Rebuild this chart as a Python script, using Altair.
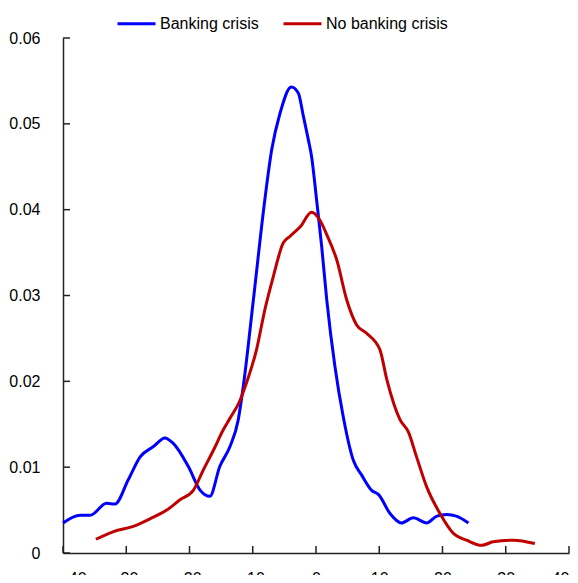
import altair as alt
import pandas as pd

# Density of output change (%)
bank_x = [-40, -37.3, -35.7, -33.1, -31.8, -29.7, -27.8, -25.7, -23.9, -22.6, -20.2, -18.3,
          -16.8, -15.2, -13.6, -12.3, -11.5, -9.9, -8.1, -7.0, -5.7, -3.9, -2.8,
          -2.0, -1.2, -0.7, 0.1, 0.9, 1.7, 3.0, 4.3, 5.9, 7.2, 8.8, 9.9, 11.7, 13.5,
          15.4, 17.5, 19.1, 20.7, 22.2, 24.1]
bank_y = [0.0035, 0.0044, 0.0044, 0.0058, 0.0057, 0.0085, 0.0112, 0.0124, 0.0134, 0.0128,
          0.0101, 0.0073, 0.0066, 0.0101, 0.0124, 0.0155, 0.0194, 0.0295, 0.0411, 0.0470,
          0.0512, 0.0543, 0.0536, 0.0509, 0.0481, 0.0462, 0.0411, 0.0357, 0.0295, 0.0217,
          0.0159, 0.0108, 0.0091, 0.0073, 0.0068, 0.0046, 0.0035,
          0.0041, 0.0035, 0.0043, 0.0045, 0.0043, 0.0035]

nobank_x = [-34.8, -32.0, -28.9, -26.2, -23.6, -21.5, -19.4, -17.8, -16.2, -14.7, -13.6,
            -12.0, -11.0, -9.4, -8.1, -6.75, -5.2, -4.1, -2.5, -0.7, 0.6, 1.7, 3.3, 4.85, 6.4,
            8.0, 10.1, 11.2, 13.3, 14.6, 15.9, 17.5, 19.6, 21.7, 23.8, 26.2, 28.0, 31.2, 34.6]
nobank_y = [0.0016, 0.0025, 0.0031, 0.0040, 0.0050, 0.0062, 0.0073, 0.0097, 0.0120, 0.0143,
            0.0157, 0.0178, 0.0198, 0.0237, 0.0283, 0.0322, 0.0361, 0.0369, 0.0380, 0.0397,
            0.0388, 0.0371, 0.0341, 0.0295, 0.0266, 0.0256, 0.0237, 0.0202, 0.0155, 0.0141,
            0.0112, 0.0077, 0.0046, 0.0023, 0.0015, 0.0009, 0.0013, 0.0015, 0.0011]

series = ['Banking crisis', 'No banking crisis']
colors = ['#0000FF', '#C00000']
x_ticks = [-40, -30, -20, -10, 0, 10, 20, 30, 40]
y_ticks = [0, 0.01, 0.02, 0.03, 0.04, 0.05, 0.06]

FONT = 'Liberation Sans'

df = pd.concat([
    pd.DataFrame({'x': bank_x, 'y': bank_y, 'series': series[0]}),
    pd.DataFrame({'x': nobank_x, 'y': nobank_y, 'series': series[1]}),
])

x_scale = alt.Scale(domain=[-40, 40], nice=False)
y_scale = alt.Scale(domain=[0, 0.06], nice=False)

lines = alt.Chart(df).mark_line(strokeWidth=3, interpolate='monotone').encode(
    x=alt.X('x:Q', scale=x_scale,
            axis=alt.Axis(values=x_ticks, title=None, grid=False, tickSize=0,
                          labelPadding=17, labelExpr="datum.value + ''")),
    y=alt.Y('y:Q', scale=y_scale,
            axis=alt.Axis(values=y_ticks, title=None, grid=False, tickSize=0,
                          labelPadding=23,
                          labelExpr="datum.value == 0 ? '0' : format(datum.value, '.2f')")),
    color=alt.Color('series:N', scale=alt.Scale(domain=series, range=colors),
                    legend=alt.Legend(title=None, orient='none', direction='horizontal',
                                      legendX=53, legendY=-35, symbolType='stroke',
                                      symbolSize=1444, symbolStrokeWidth=3,
                                      labelOffset=3, columnPadding=18)),
    detail='series:N',
)

# inward tick marks
xt = alt.Chart(pd.DataFrame({'x': x_ticks})).mark_rule(color='#222', strokeWidth=1.5).encode(
    x=alt.X('x:Q', scale=x_scale), y=alt.value(515), y2=alt.value(508))
yt = alt.Chart(pd.DataFrame({'y': y_ticks})).mark_rule(color='#222', strokeWidth=1.5).encode(
    y=alt.Y('y:Q', scale=y_scale), x=alt.value(0), x2=alt.value(7))

chart = alt.layer(lines, xt, yt).properties(
    width=506, height=515, autosize='none',
    padding={'left': 55, 'top': 30, 'right': 1, 'bottom': 22},
).configure_view(strokeWidth=0).configure_axis(
    domainColor='#222', domainWidth=1.5, labelFont=FONT, labelFontSize=16,
    labelColor='black',
).configure_legend(labelFont=FONT, labelFontSize=16, labelColor='black')

chart.save('out.html', embed_options={'renderer': 'svg', 'actions': False})
